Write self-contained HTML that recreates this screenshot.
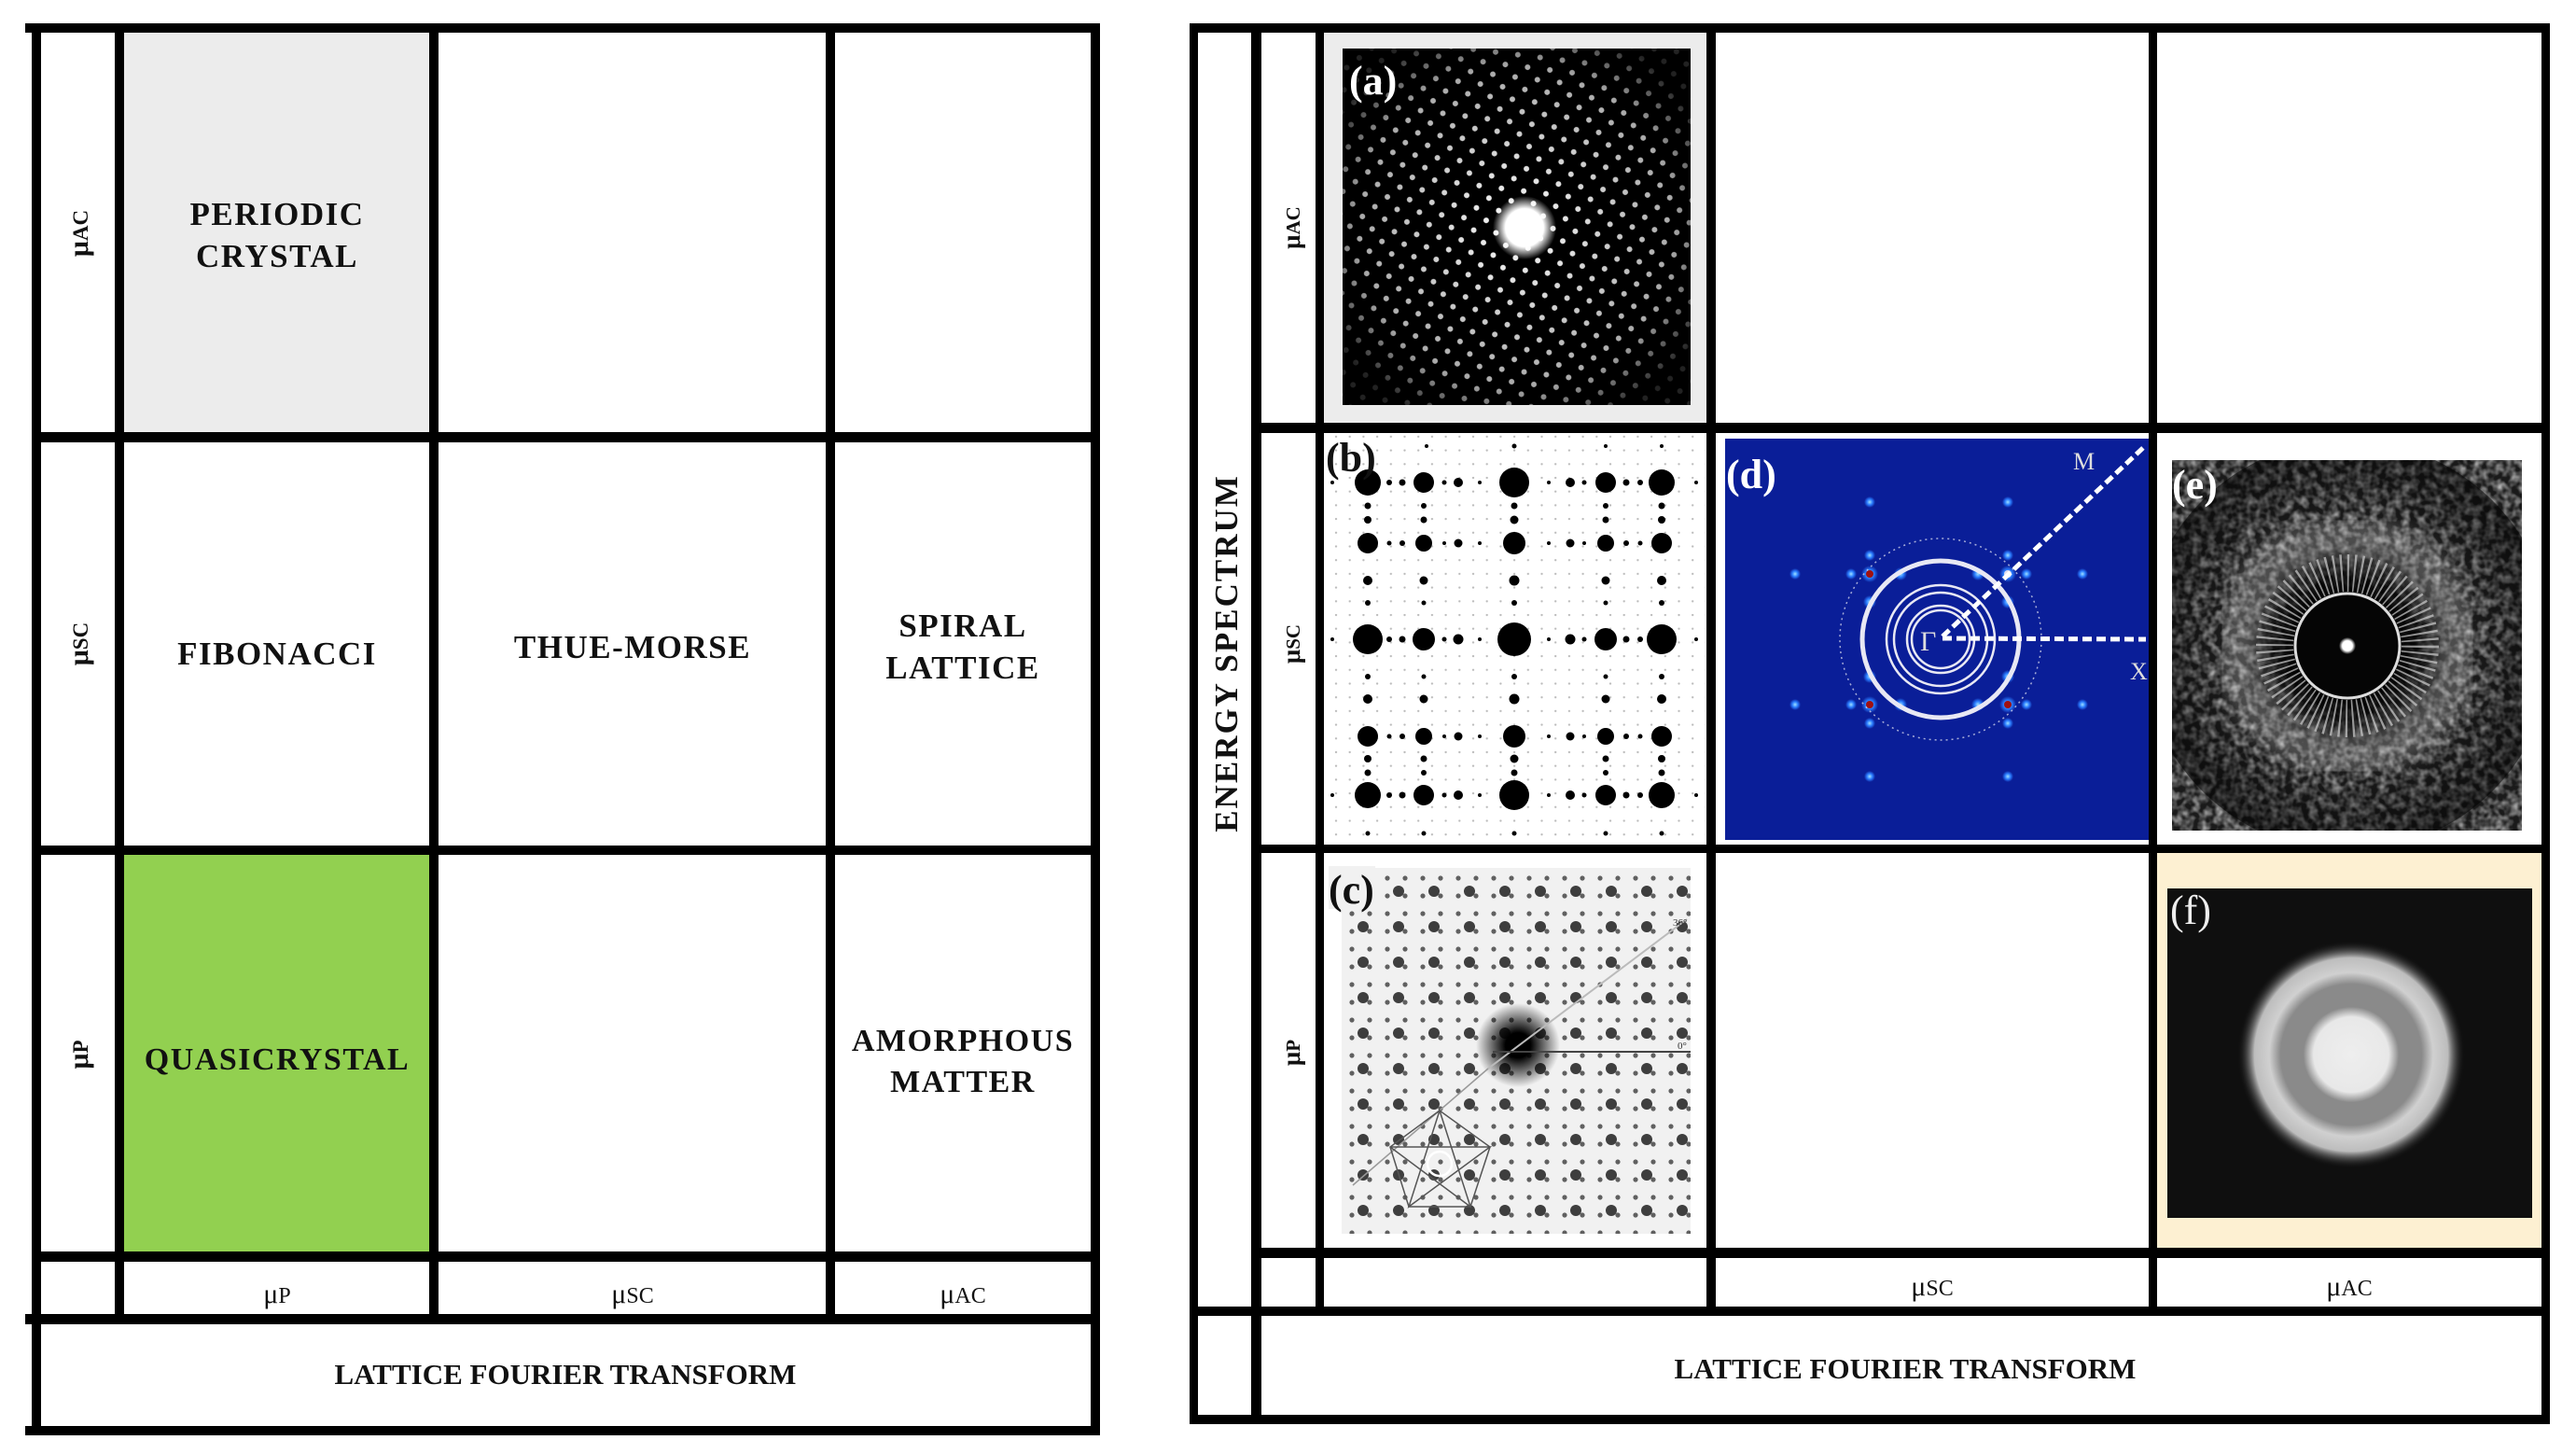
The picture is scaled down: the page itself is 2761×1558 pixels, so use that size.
<!DOCTYPE html>
<html><head><meta charset="utf-8"><style>
html,body{margin:0;padding:0;background:#fff;}
body{width:2761px;height:1558px;overflow:hidden;position:relative;}
svg{position:absolute;left:0;top:0;}
text{font-family:"Liberation Serif",serif;}
</style></head><body>
<svg width="2761" height="1558" viewBox="0 0 2761 1558" xmlns="http://www.w3.org/2000/svg">
<defs>
 <pattern id="latA" width="17" height="17" patternUnits="userSpaceOnUse" patternTransform="rotate(-38 1634 244)">
  <circle cx="8.5" cy="8.5" r="3" fill="#fff"/>
 </pattern>
 <radialGradient id="fadeA" cx="0.5" cy="0.5" r="0.6">
  <stop offset="0" stop-color="#fff"/><stop offset="0.75" stop-color="#aaa"/><stop offset="1" stop-color="#222"/>
 </radialGradient>
 <mask id="mA"><rect x="1439" y="52" width="373" height="382" fill="url(#fadeA)"/></mask>
 <radialGradient id="blob" cx="0.5" cy="0.5" r="0.5">
  <stop offset="0.6" stop-color="#fff"/><stop offset="1" stop-color="#fff" stop-opacity="0"/>
 </radialGradient>
 <pattern id="smallB" width="14.7" height="14.7" patternUnits="userSpaceOnUse" x="1430" y="510">
  <circle cx="2" cy="2" r="1.2" fill="#bbb"/>
 </pattern>
 <pattern id="dotsC" width="19" height="19" patternUnits="userSpaceOnUse" x="1440" y="932">
  <circle cx="9" cy="9" r="2.6" fill="#222"/>
 </pattern>
 <pattern id="dotsC2" width="38" height="38" patternUnits="userSpaceOnUse" x="1452" y="946">
  <circle cx="9" cy="9" r="6" fill="#111"/>
 </pattern>
 <radialGradient id="blobC" cx="0.5" cy="0.5" r="0.5">
  <stop offset="0.3" stop-color="#000"/><stop offset="1" stop-color="#000" stop-opacity="0"/>
 </radialGradient>
 <radialGradient id="spot" cx="0.5" cy="0.5" r="0.5">
  <stop offset="0" stop-color="#9fe0ff"/><stop offset="0.5" stop-color="#2a7cff"/><stop offset="1" stop-color="#2a7cff" stop-opacity="0"/>
 </radialGradient>
 <filter id="noise" x="0" y="0" width="1" height="1">
  <feTurbulence type="fractalNoise" baseFrequency="0.12" numOctaves="2" seed="3"/>
  <feColorMatrix type="matrix" values="0 0 0 0 1  0 0 0 0 1  0 0 0 0 1  1.6 0 0 0 -0.55"/>
 </filter>
 <filter id="blurE"><feGaussianBlur stdDeviation="10"/></filter>
 <clipPath id="clipE"><rect x="2328" y="493" width="375" height="397"/></clipPath>
 <radialGradient id="eRing" cx="0.5" cy="0.5" r="0.5">
  <stop offset="0" stop-color="#000" stop-opacity="1"/>
  <stop offset="0.25" stop-color="#000" stop-opacity="1"/>
  <stop offset="0.5" stop-color="#000" stop-opacity="0.1"/>
  <stop offset="0.62" stop-color="#000" stop-opacity="0"/>
  <stop offset="0.8" stop-color="#000" stop-opacity="0.3"/>
  <stop offset="1" stop-color="#000" stop-opacity="0.55"/>
 </radialGradient>
 <radialGradient id="fRing" cx="0.5" cy="0.5" r="0.5">
  <stop offset="0" stop-color="#eee"/>
  <stop offset="0.33" stop-color="#e8e8e8"/>
  <stop offset="0.42" stop-color="#8a8a8a"/>
  <stop offset="0.62" stop-color="#8a8a8a"/>
  <stop offset="0.72" stop-color="#d0d0d0"/>
  <stop offset="0.85" stop-color="#bdbdbd"/>
  <stop offset="1" stop-color="#111" stop-opacity="0"/>
 </radialGradient>
</defs>

<!-- ============ LEFT PANEL ============ -->
<rect x="133" y="35" width="327" height="428" fill="#ececec"/>
<rect x="133" y="916" width="327" height="425" fill="#92d050"/>
<g fill="#000">
 <rect x="34" y="25" width="10" height="1513"/>
 <rect x="123" y="25" width="10" height="1394"/>
 <rect x="460" y="25" width="10" height="1394"/>
 <rect x="885" y="25" width="10" height="1394"/>
 <rect x="1169" y="25" width="10" height="1513"/>
 <rect x="27" y="25" width="1152" height="10"/>
 <rect x="34" y="463" width="1145" height="11"/>
 <rect x="34" y="906" width="1145" height="10"/>
 <rect x="34" y="1341" width="1145" height="11"/>
 <rect x="27" y="1408" width="1152" height="11"/>
 <rect x="27" y="1528" width="1152" height="10"/>
</g>
<g font-weight="bold" font-size="35" text-anchor="middle" fill="#111" letter-spacing="1.5">
 <text x="297" y="241">PERIODIC</text>
 <text x="297" y="286">CRYSTAL</text>
 <text x="297" y="712">FIBONACCI</text>
 <text x="678" y="705">THUE-MORSE</text>
 <text x="1032" y="682">SPIRAL</text>
 <text x="1032" y="727">LATTICE</text>
 <text x="297" y="1146" font-size="34">QUASICRYSTAL</text>
 <text x="1032" y="1126" font-size="34">AMORPHOUS</text>
 <text x="1032" y="1170" font-size="34">MATTER</text>
</g>
<g font-weight="bold" font-size="30" fill="#111" text-anchor="middle">
 <text transform="translate(94 250) rotate(-90)">μ<tspan font-size="23">AC</tspan></text>
 <text transform="translate(94 690) rotate(-90)">μ<tspan font-size="23">SC</tspan></text>
 <text transform="translate(94 1130) rotate(-90)">μ<tspan font-size="23">P</tspan></text>
</g>
<g font-size="30" fill="#111" text-anchor="middle">
 <text x="297" y="1396">μ<tspan font-size="24">P</tspan></text>
 <text x="678" y="1396">μ<tspan font-size="24">SC</tspan></text>
 <text x="1032" y="1396">μ<tspan font-size="24">AC</tspan></text>
</g>
<text x="606" y="1483" font-weight="bold" font-size="31" text-anchor="middle" fill="#111">LATTICE FOURIER TRANSFORM</text>

<!-- ============ RIGHT PANEL ============ -->
<!-- (a) -->
<rect x="1419" y="35" width="410" height="418" fill="#ececec"/>
<rect x="1439" y="52" width="373" height="382" fill="#000"/>
<rect x="1439" y="52" width="373" height="382" fill="url(#latA)" mask="url(#mA)"/>
<circle cx="1634" cy="244" r="34" fill="url(#blob)"/>
<text x="1446" y="101" font-weight="bold" font-size="44" fill="#fff">(a)</text>

<!-- (b) -->
<rect x="1421" y="465" width="407" height="440" fill="url(#smallB)"/>
<g fill="#000">
 <circle cx="1466" cy="517" r="14"/><circle cx="1526" cy="517" r="11"/><circle cx="1623" cy="517" r="16"/><circle cx="1721" cy="517" r="11"/><circle cx="1781" cy="517" r="14"/>
 <circle cx="1466" cy="582" r="11"/><circle cx="1526" cy="582" r="9"/><circle cx="1623" cy="582" r="12"/><circle cx="1721" cy="582" r="9"/><circle cx="1781" cy="582" r="11"/>
 <circle cx="1466" cy="685" r="16"/><circle cx="1526" cy="685" r="12"/><circle cx="1623" cy="685" r="18"/><circle cx="1721" cy="685" r="12"/><circle cx="1781" cy="685" r="16"/>
 <circle cx="1466" cy="789" r="11"/><circle cx="1526" cy="789" r="9"/><circle cx="1623" cy="789" r="12"/><circle cx="1721" cy="789" r="9"/><circle cx="1781" cy="789" r="11"/>
 <circle cx="1466" cy="852" r="14"/><circle cx="1526" cy="852" r="11"/><circle cx="1623" cy="852" r="16"/><circle cx="1721" cy="852" r="11"/><circle cx="1781" cy="852" r="14"/>
 <g>
  <circle cx="1489" cy="517" r="3"/><circle cx="1503" cy="517" r="3.5"/><circle cx="1548" cy="517" r="2.5"/><circle cx="1563" cy="517" r="5"/><circle cx="1586" cy="517" r="2"/><circle cx="1660" cy="517" r="2"/><circle cx="1683" cy="517" r="5"/><circle cx="1698" cy="517" r="2.5"/><circle cx="1743" cy="517" r="3.5"/><circle cx="1758" cy="517" r="3"/>
  <circle cx="1489" cy="582" r="2.5"/><circle cx="1503" cy="582" r="3"/><circle cx="1548" cy="582" r="2"/><circle cx="1563" cy="582" r="4.5"/><circle cx="1586" cy="582" r="2"/><circle cx="1660" cy="582" r="2"/><circle cx="1683" cy="582" r="4.5"/><circle cx="1698" cy="582" r="2"/><circle cx="1743" cy="582" r="3"/><circle cx="1758" cy="582" r="2.5"/>
  <circle cx="1489" cy="685" r="3"/><circle cx="1503" cy="685" r="3.5"/><circle cx="1548" cy="685" r="2.5"/><circle cx="1563" cy="685" r="5.5"/><circle cx="1586" cy="685" r="2"/><circle cx="1660" cy="685" r="2"/><circle cx="1683" cy="685" r="5.5"/><circle cx="1698" cy="685" r="2.5"/><circle cx="1743" cy="685" r="3.5"/><circle cx="1758" cy="685" r="3"/>
  <circle cx="1489" cy="789" r="2.5"/><circle cx="1503" cy="789" r="3"/><circle cx="1548" cy="789" r="2"/><circle cx="1563" cy="789" r="4.5"/><circle cx="1586" cy="789" r="2"/><circle cx="1660" cy="789" r="2"/><circle cx="1683" cy="789" r="4.5"/><circle cx="1698" cy="789" r="2"/><circle cx="1743" cy="789" r="3"/><circle cx="1758" cy="789" r="2.5"/>
  <circle cx="1489" cy="852" r="3"/><circle cx="1503" cy="852" r="3.5"/><circle cx="1548" cy="852" r="2.5"/><circle cx="1563" cy="852" r="5"/><circle cx="1586" cy="852" r="2"/><circle cx="1660" cy="852" r="2"/><circle cx="1683" cy="852" r="5"/><circle cx="1698" cy="852" r="2.5"/><circle cx="1743" cy="852" r="3.5"/><circle cx="1758" cy="852" r="3"/>
 </g>
 <g>
  <circle cx="1466" cy="542" r="3.5"/><circle cx="1466" cy="557" r="4"/><circle cx="1466" cy="622" r="5"/><circle cx="1466" cy="646" r="3"/><circle cx="1466" cy="725" r="3"/><circle cx="1466" cy="749" r="5"/><circle cx="1466" cy="813" r="4"/><circle cx="1466" cy="828" r="3.5"/><circle cx="1466" cy="893" r="2.5"/>
  <circle cx="1526" cy="542" r="3"/><circle cx="1526" cy="557" r="3.5"/><circle cx="1526" cy="622" r="4.5"/><circle cx="1526" cy="646" r="2.5"/><circle cx="1526" cy="725" r="2.5"/><circle cx="1526" cy="749" r="4.5"/><circle cx="1526" cy="813" r="3.5"/><circle cx="1526" cy="828" r="3"/><circle cx="1526" cy="893" r="2.5"/>
  <circle cx="1623" cy="542" r="3.5"/><circle cx="1623" cy="557" r="4.5"/><circle cx="1623" cy="622" r="5.5"/><circle cx="1623" cy="646" r="3"/><circle cx="1623" cy="725" r="3"/><circle cx="1623" cy="749" r="5.5"/><circle cx="1623" cy="813" r="4.5"/><circle cx="1623" cy="828" r="3.5"/><circle cx="1623" cy="893" r="2.5"/><circle cx="1623" cy="478" r="2.5"/>
  <circle cx="1721" cy="542" r="3"/><circle cx="1721" cy="557" r="3.5"/><circle cx="1721" cy="622" r="4.5"/><circle cx="1721" cy="646" r="2.5"/><circle cx="1721" cy="725" r="2.5"/><circle cx="1721" cy="749" r="4.5"/><circle cx="1721" cy="813" r="3.5"/><circle cx="1721" cy="828" r="3"/><circle cx="1721" cy="893" r="2.5"/>
  <circle cx="1781" cy="542" r="3.5"/><circle cx="1781" cy="557" r="4"/><circle cx="1781" cy="622" r="5"/><circle cx="1781" cy="646" r="3"/><circle cx="1781" cy="725" r="3"/><circle cx="1781" cy="749" r="5"/><circle cx="1781" cy="813" r="4"/><circle cx="1781" cy="828" r="3.5"/><circle cx="1781" cy="893" r="2.5"/>
  <circle cx="1529" cy="478" r="2"/><circle cx="1721" cy="478" r="2"/><circle cx="1781" cy="478" r="2"/>
  <circle cx="1428" cy="517" r="2"/><circle cx="1818" cy="517" r="2"/><circle cx="1428" cy="685" r="2"/><circle cx="1818" cy="685" r="2"/><circle cx="1428" cy="852" r="2"/><circle cx="1818" cy="852" r="2"/>
 </g>
</g>
<text x="1421" y="505" font-weight="bold" font-size="44" fill="#111">(b)</text>

<!-- (c) -->
<rect x="1438" y="930" width="374" height="392" fill="#f1f1f1"/>
<rect x="1438" y="930" width="374" height="392" fill="url(#dotsC)" opacity="0.7"/>
<rect x="1438" y="930" width="374" height="392" fill="url(#dotsC2)" opacity="0.8"/>
<circle cx="1627" cy="1120" r="45" fill="url(#blobC)"/>
<line x1="1595" y1="1145" x2="1808" y2="985" stroke="#bbb" stroke-width="2"/>
<line x1="1450" y1="1270" x2="1595" y2="1145" stroke="#999" stroke-width="1.5"/>
<line x1="1600" y1="1127" x2="1812" y2="1127" stroke="#444" stroke-width="2"/>
<g stroke="#555" stroke-width="1.5" fill="none">
 <polygon points="1543,1190 1490,1229 1510,1293 1576,1293 1597,1229"/>
 <polyline points="1490,1229 1576,1293 1543,1190 1510,1293 1597,1229 1490,1229"/>
</g>
<circle cx="1543" cy="1247" r="13" fill="none" stroke="#fff" stroke-width="2.5"/>
<rect x="1424" y="928" width="50" height="46" fill="#f1f1f1"/>
<text x="1424" y="968" font-weight="bold" font-size="44" fill="#111">(c)</text>
<text x="1793" y="992" font-size="11" fill="#333">36°</text>
<text x="1798" y="1124" font-size="11" fill="#333">0°</text>

<!-- (d) -->
<rect x="1839" y="464" width="464" height="441" fill="#fff"/>
<rect x="1849" y="470" width="454" height="430" fill="#0a1e98"/>
<g>
 <circle cx="2004" cy="615" r="9" fill="url(#spot)"/><circle cx="2152" cy="615" r="9" fill="url(#spot)"/>
 <circle cx="2004" cy="755" r="9" fill="url(#spot)"/><circle cx="2152" cy="755" r="9" fill="url(#spot)"/>
 <circle cx="2004" cy="615" r="4" fill="#a01010"/><circle cx="2004" cy="755" r="4" fill="#a01010"/><circle cx="2152" cy="755" r="4" fill="#a01010"/><circle cx="2152" cy="615" r="4" fill="#dde"/>
 <circle cx="2004" cy="538" r="6" fill="url(#spot)"/><circle cx="2152" cy="538" r="6" fill="url(#spot)"/>
 <circle cx="2004" cy="595" r="6" fill="url(#spot)"/><circle cx="2152" cy="595" r="6" fill="url(#spot)"/>
 <circle cx="2004" cy="775" r="6" fill="url(#spot)"/><circle cx="2152" cy="775" r="6" fill="url(#spot)"/>
 <circle cx="2004" cy="832" r="6" fill="url(#spot)"/><circle cx="2152" cy="832" r="6" fill="url(#spot)"/>
 <circle cx="1924" cy="615" r="6" fill="url(#spot)"/><circle cx="1984" cy="615" r="6" fill="url(#spot)"/>
 <circle cx="2172" cy="615" r="6" fill="url(#spot)"/><circle cx="2232" cy="615" r="6" fill="url(#spot)"/>
 <circle cx="1924" cy="755" r="6" fill="url(#spot)"/><circle cx="1984" cy="755" r="6" fill="url(#spot)"/>
 <circle cx="2172" cy="755" r="6" fill="url(#spot)"/><circle cx="2232" cy="755" r="6" fill="url(#spot)"/>
 <circle cx="2037" cy="615" r="7" fill="url(#spot)"/><circle cx="2120" cy="615" r="7" fill="url(#spot)"/>
 <circle cx="2037" cy="755" r="7" fill="url(#spot)"/><circle cx="2120" cy="755" r="7" fill="url(#spot)"/>
 <circle cx="2004" cy="645" r="7" fill="url(#spot)"/><circle cx="2152" cy="645" r="7" fill="url(#spot)"/>
 <circle cx="2004" cy="725" r="7" fill="url(#spot)"/><circle cx="2152" cy="725" r="7" fill="url(#spot)"/>
</g>
<g fill="none" stroke="#e8e8f4">
 <circle cx="2080" cy="685" r="108" stroke-width="1.5" stroke-dasharray="2 4" opacity="0.7"/>
 <circle cx="2080" cy="685" r="84" stroke-width="5"/>
 <circle cx="2080" cy="685" r="58" stroke-width="2.5"/>
 <circle cx="2080" cy="685" r="50" stroke-width="2.5"/>
 <circle cx="2080" cy="685" r="36" stroke-width="2.5"/>
 <circle cx="2080" cy="685" r="31" stroke-width="2.5"/>
 <line x1="2082" y1="684" x2="2300" y2="685" stroke="#fff" stroke-width="5" stroke-dasharray="10 5"/>
 <line x1="2082" y1="682" x2="2300" y2="477" stroke="#fff" stroke-width="5" stroke-dasharray="10 5"/>
</g>
<text x="2058" y="697" font-size="30" fill="#ddd">Γ</text>
<text x="2222" y="503" font-size="26" fill="#ddd">M</text>
<text x="2283" y="728" font-size="26" fill="#ddd">X</text>
<text x="1850" y="523" font-weight="bold" font-size="44" fill="#fff">(d)</text>

<!-- (e) -->
<rect x="2312" y="464" width="412" height="441" fill="#fff"/>
<g clip-path="url(#clipE)">
 <rect x="2328" y="493" width="375" height="397" fill="#1a1a1a"/>
 <rect x="2328" y="493" width="375" height="397" filter="url(#noise)" opacity="0.75"/>
 <circle cx="2516" cy="692" r="112" fill="none" stroke="#fff" stroke-width="50" opacity="0.25" filter="url(#blurE)"/>
 <circle cx="2516" cy="692" r="220" fill="url(#eRing)"/>
 <circle cx="2516" cy="692" r="78" fill="none" stroke="#cfcfcf" stroke-width="40" stroke-dasharray="2 4.8" opacity="0.7"/>
 <circle cx="2516" cy="692" r="56" fill="#050505" stroke="#ddd" stroke-width="3"/>
 <circle cx="2516" cy="692" r="9" fill="url(#blob)"/>
</g>
<text x="2328" y="534" font-weight="bold" font-size="44" fill="#fff">(e)</text>

<!-- (f) -->
<rect x="2312" y="914" width="412" height="423" fill="#fdf0d2"/>
<rect x="2323" y="952" width="391" height="353" fill="#0f0f0f"/>
<circle cx="2520" cy="1130" r="122" fill="url(#fRing)"/>
<text x="2326" y="990" font-size="44" fill="#eee">(f)</text>

<!-- grid lines right -->
<g fill="#000">
 <rect x="1275" y="25" width="9" height="1501"/>
 <rect x="1341" y="25" width="11" height="1501"/>
 <rect x="1410" y="25" width="9" height="1385"/>
 <rect x="1829" y="25" width="10" height="1385"/>
 <rect x="2303" y="25" width="9" height="1385"/>
 <rect x="2724" y="25" width="9" height="1501"/>
 <rect x="1275" y="25" width="1458" height="10"/>
 <rect x="1341" y="453" width="1392" height="11"/>
 <rect x="1341" y="905" width="1392" height="9"/>
 <rect x="1341" y="1337" width="1392" height="11"/>
 <rect x="1275" y="1400" width="1458" height="10"/>
 <rect x="1275" y="1516" width="1458" height="10"/>
</g>
<text transform="translate(1326 700) rotate(-90)" font-weight="bold" font-size="35" text-anchor="middle" fill="#111" letter-spacing="2">ENERGY SPECTRUM</text>
<g font-weight="bold" font-size="27" fill="#111" text-anchor="middle">
 <text transform="translate(1393 244) rotate(-90)">μ<tspan font-size="21">AC</tspan></text>
 <text transform="translate(1393 690) rotate(-90)">μ<tspan font-size="21">SC</tspan></text>
 <text transform="translate(1393 1128) rotate(-90)">μ<tspan font-size="21">P</tspan></text>
</g>
<g font-size="30" fill="#111" text-anchor="middle">
 <text x="2071" y="1388">μ<tspan font-size="24">SC</tspan></text>
 <text x="2518" y="1388">μ<tspan font-size="24">AC</tspan></text>
</g>
<text x="2042" y="1477" font-weight="bold" font-size="31" text-anchor="middle" fill="#111">LATTICE FOURIER TRANSFORM</text>
</svg>
</body></html>
